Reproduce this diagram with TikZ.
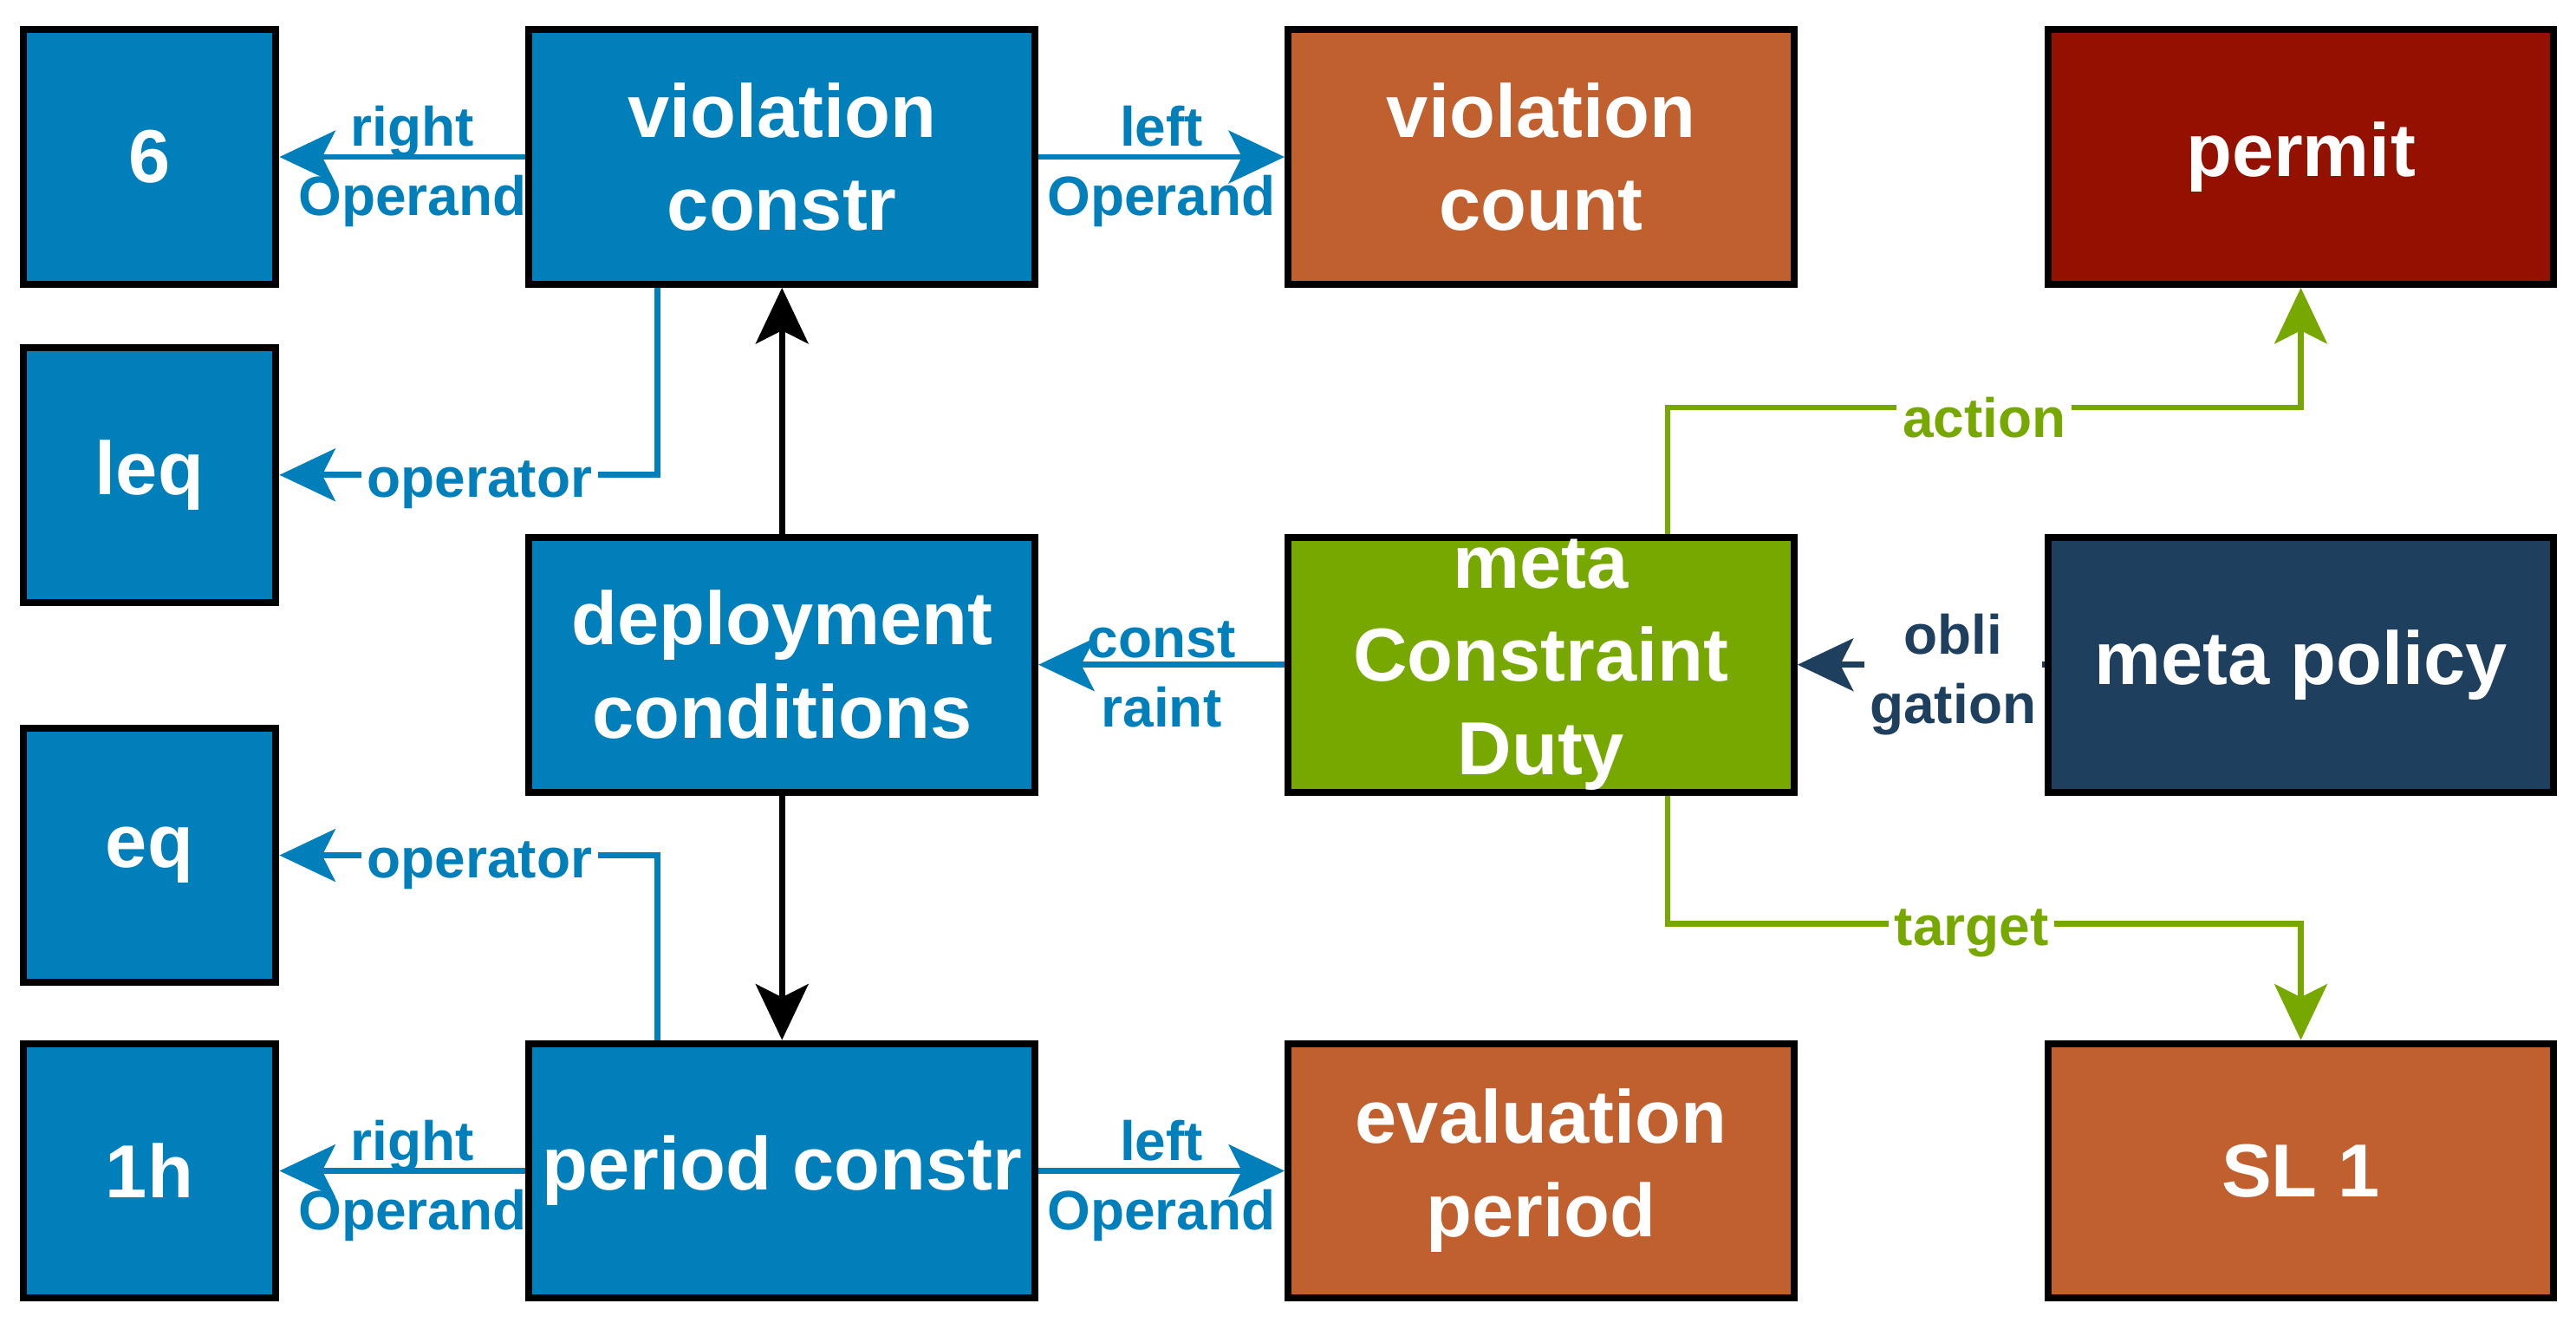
\documentclass[tikz,border=0pt]{standalone}
\usepackage{fontspec}
\setmainfont{Liberation Sans}
\usepackage{tikz}
\usetikzlibrary{arrows.meta}
\definecolor{cblue}{RGB}{0,127,186}
\definecolor{corange}{RGB}{192,96,47}
\definecolor{cred}{RGB}{148,17,0}
\definecolor{cgreen}{RGB}{119,168,0}
\definecolor{cnavy}{RGB}{31,63,95}

\begin{document}
\begin{tikzpicture}[line width=1pt,
    box/.style={draw=black, line width=1.2pt, text=white, align=center,
      font=\fontsize{13}{16.2}\selectfont\bfseries, minimum height=1.55cm, inner sep=0pt},
    small/.style={box, minimum width=1.54cm},
    wide/.style={box, minimum width=3.08cm},
    lbl/.style={font=\fontsize{9.6}{12}\selectfont\bfseries, align=center, inner sep=1pt, yshift=-0.06cm},
    >={Stealth[length=3.4mm, width=3.2mm, inset=0.8mm]}]
          \useasboundingbox (0,0) rectangle (15.68,-8.13);

          \node[small, fill=cblue]   (six)    at (0.91, -0.955)   {6};
          \node[wide, fill=cblue]    (vc)     at (4.76, -0.955)   {violation\\constr};
          \node[wide, fill=corange]  (vcount) at (9.38, -0.955)   {violation\\count};
          \node[wide, fill=cred]     (permit) at (14.005, -0.955) {permit};
          \node[small, fill=cblue]   (leq)    at (0.91, -2.89)    {leq};
          \node[wide, fill=cblue]    (dep)    at (4.76, -4.045)   {deployment\\conditions};
          \node[wide, fill=cgreen]   (mcd)    at (9.38, -4.045)   {meta\\Constraint\\Duty};
          \node[wide, fill=cnavy]    (mpol)   at (14.005, -4.045) {meta policy};
          \node[small, fill=cblue]   (eq)     at (0.91, -5.205)   {eq};
          \node[small, fill=cblue]   (oneh)   at (0.91, -7.125)   {1h};
          \node[wide, fill=cblue]    (pc)     at (4.76, -7.125)   {period constr};
          \node[wide, fill=corange]  (evp)    at (9.38, -7.125)   {evaluation\\period};
          \node[wide, fill=corange]  (sl)     at (14.005, -7.125) {SL 1};

          \draw[->, cblue] (vc) -- node[lbl, xshift=0.06cm] {right\\Operand} (six);
          \draw[->, cblue] (vc) -- node[lbl] {left\\Operand} (vcount);
          \draw[->, cblue] ([xshift=-0.76cm]vc.south) |- node[lbl, fill=white, pos=0.735] {operator} (leq);
          \draw[->] (dep) -- (vc);
          \draw[->] (dep) -- (pc);
          \draw[->, cblue] ([xshift=-0.76cm]pc.north) |- node[lbl, fill=white, pos=0.735] {operator} (eq);
          \draw[->, cblue] (pc) -- node[lbl, xshift=0.06cm] {right\\Operand} (oneh);
          \draw[->, cblue] (pc) -- node[lbl] {left\\Operand} (evp);
          \draw[->, cblue] (mcd) -- node[lbl] {const\\raint} (dep);
          \draw[->, cnavy] (mpol) -- node[lbl, fill=white, pos=0.37] {obli\\gation} (mcd);
          \draw[->, cgreen] ([xshift=0.77cm]mcd.north) -- ++(0,0.77) -| node[lbl, fill=white, pos=0.25] {action} (permit);
          \draw[->, cgreen] ([xshift=0.77cm]mcd.south) -- ++(0,-0.78) -| node[lbl, fill=white, pos=0.24] {target} (sl);
        \end{tikzpicture}
\end{document}
